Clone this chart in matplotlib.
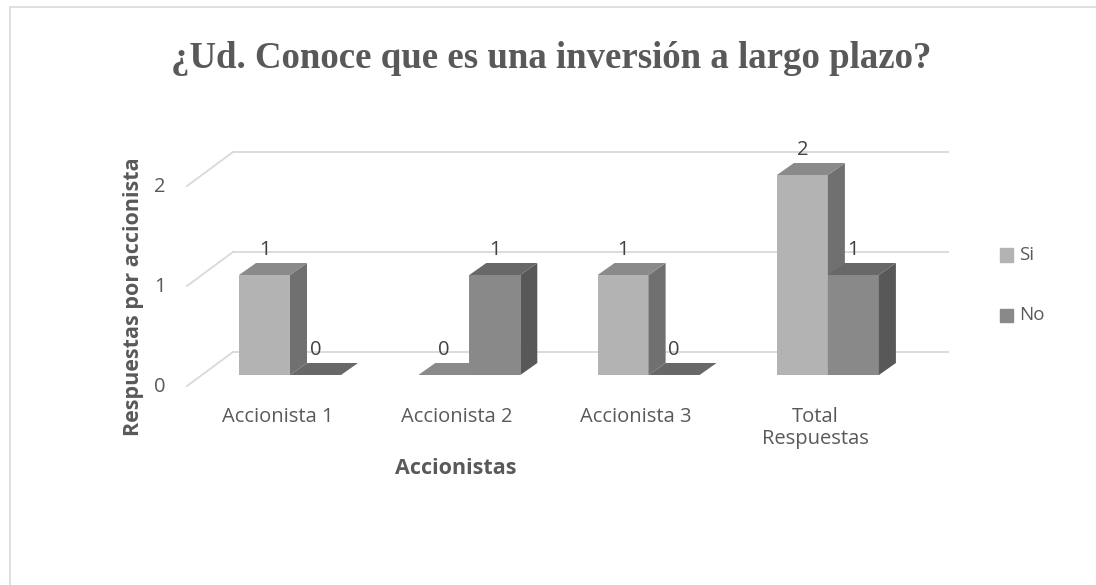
import numpy as np
import matplotlib.pyplot as plt
from matplotlib.patches import Polygon, Rectangle

categories = ['Accionista 1', 'Accionista 2', 'Accionista 3', 'Total\nRespuestas']
si = [1, 0, 1, 2]
no = [0, 1, 0, 1]
yticks = [0, 1, 2]

# colours (front, top, side)
si_col = ['#b3b3b3', '#8a8a8a', '#707070']
no_col = ['#898989', '#686868', '#585858']
txt_c = '#595959'

W, H = 1096, 585
fig = plt.figure(figsize=(W / 100, H / 100), dpi=100)
ax = fig.add_axes([0, 0, 1, 1])
# 1 category = 179.3 px, 1 unit = 100 px; category 0 boundary at px 290, value 0 at px 375
sx, sy = 179.3, 100.0
ax.set_xlim((0 - 290) / sx, (W - 290) / sx)
ax.set_ylim((375 - H) / sy, (375 - 0) / sy)
ax.axis('off')

# frame of the chart area
fig.patches.append(Rectangle((10 / W, -0.01), 1.0, 1 - 7 / H + 0.01, transform=fig.transFigure,
                             fill=False, edgecolor='#d9d9d9', lw=1.2))

bw = 51 / sx                  # bar width
ddx, ddy = 17 / sx, 12 / sy   # bar depth
x_back_l, x_back_r = (233 - 290) / sx, (948 - 290) / sx
x_front_l = (187 - 290) / sx
grid_c = '#d9d9d9'
for g in yticks:
    ax.plot([x_back_l, x_back_r], [g + 0.23, g + 0.23], color=grid_c, lw=1.3, zorder=1)
    ax.plot([x_front_l, x_back_l], [g - 0.11, g + 0.23], color=grid_c, lw=1.3, zorder=1)
    ax.text((160 - 290) / sx, g - 0.12, str(g), ha='center', va='center',
            fontsize=14.5, color=txt_c, family='Open Sans')

idx = np.arange(len(categories))


def draw_bar(x0, v, cols):
    if v > 0:
        ax.bar(x0, v, width=bw, align='edge', color=cols[0], zorder=3)
        side = [(x0 + bw, 0), (x0 + bw, v), (x0 + bw + ddx, v + ddy), (x0 + bw + ddx, ddy)]
        ax.add_patch(Polygon(side, closed=True, facecolor=cols[2], edgecolor='none', zorder=3))
    top = [(x0, v), (x0 + bw, v), (x0 + bw + ddx, v + ddy), (x0 + ddx, v + ddy)]
    ax.add_patch(Polygon(top, closed=True, facecolor=cols[1], edgecolor='none', zorder=3))
    ax.text(x0 + bw / 2, v + 0.25, str(v), ha='center', va='center',
            fontsize=14.5, color='#404040', family='Open Sans', zorder=4)


for i in idx:
    draw_bar(i - bw, si[i], si_col)
for i in idx:
    draw_bar(i, no[i], no_col)

for i, c in zip(idx, categories):
    ax.text(i - 0.07, -0.32, c, ha='center', va='top', fontsize=14.5, color=txt_c,
            family='Open Sans', linespacing=1.15)

fig.text(456 / W, 1 - 468 / H, 'Accionistas', ha='center', va='center', fontsize=15.5,
         fontweight='bold', color=txt_c, family='Open Sans')
fig.text(134 / W, 1 - 297 / H, 'Respuestas por accionista', ha='center', va='center',
         rotation=90, fontsize=15.5, fontweight='bold', color=txt_c, family='Open Sans')

title = fig.text(551 / W, 1 - 58 / H, '¿Ud. Conoce que es una inversión a largo plazo?',
                 ha='center', va='center', fontsize=26, fontweight='bold', color=txt_c,
                 family='Liberation Serif')
# fit title width to the reference (~763 px)
fig.canvas.draw()
tw = title.get_window_extent().width
title.set_fontsize(26 * 763 / tw)

# legend
for lab, col, ypx in [('Si', si_col[0], 255), ('No', no_col[0], 315)]:
    fig.patches.append(Rectangle((1000 / W, 1 - (ypx + 6.5) / H), 13 / W, 13 / H,
                                 transform=fig.transFigure, color=col))
    fig.text(1019 / W, 1 - ypx / H, lab, ha='left', va='center', fontsize=13.5,
             color=txt_c, family='Open Sans')

fig.savefig('out.png', dpi=100)
